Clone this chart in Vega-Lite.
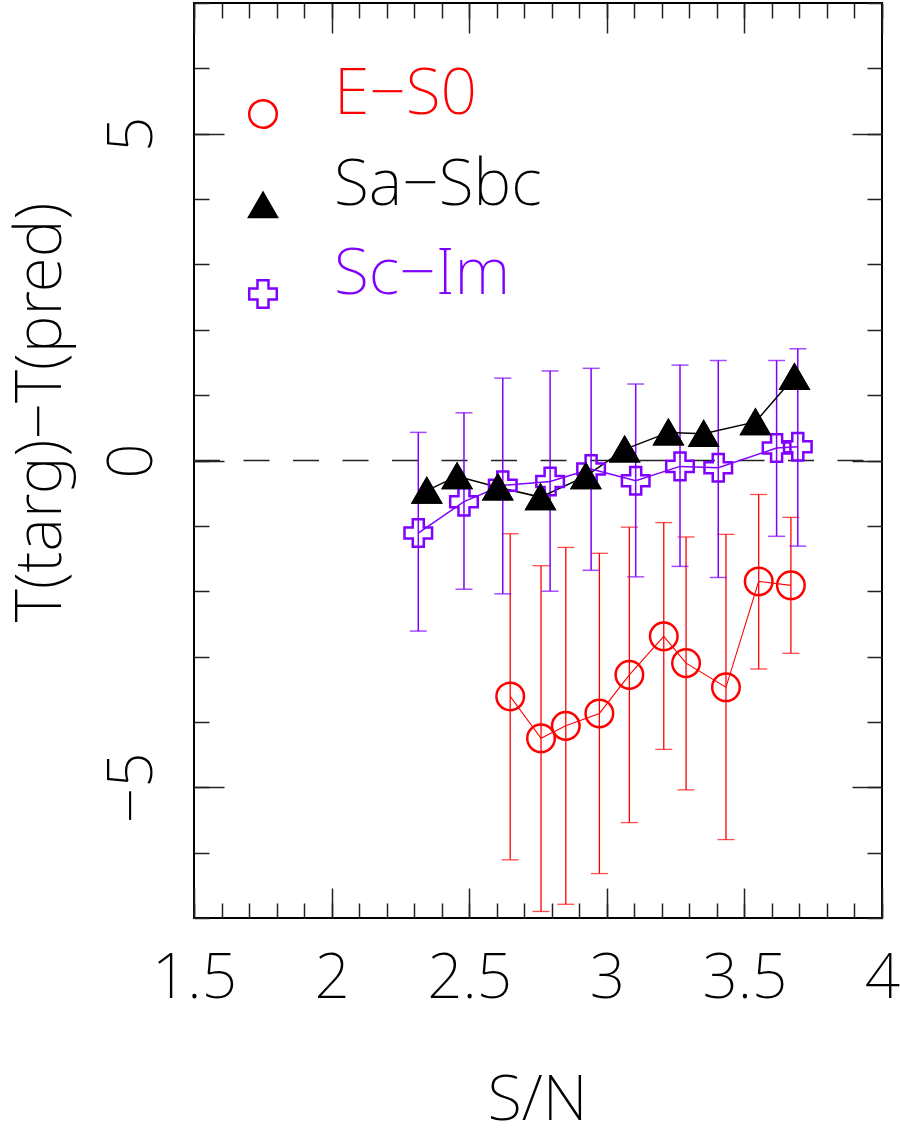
{
  "$schema": "https://vega.github.io/schema/vega-lite/v6.json",
  "autosize": {"type": "none"},
  "padding": {"left": 194, "top": 3, "right": 18, "bottom": 220},
  "width": 688,
  "height": 915,
  "background": "#ffffff",
  "datasets": {
    "pts": [
      {"g": "E−S0", "sn": 2.649, "t": -3.61, "lo": -6.11, "hi": -1.12},
      {"g": "E−S0", "sn": 2.761, "t": -4.25, "lo": -6.90, "hi": -1.61},
      {"g": "E−S0", "sn": 2.851, "t": -4.06, "lo": -6.79, "hi": -1.33},
      {"g": "E−S0", "sn": 2.973, "t": -3.87, "lo": -6.32, "hi": -1.42},
      {"g": "E−S0", "sn": 3.082, "t": -3.28, "lo": -5.54, "hi": -1.02},
      {"g": "E−S0", "sn": 3.207, "t": -2.69, "lo": -4.42, "hi": -0.95},
      {"g": "E−S0", "sn": 3.288, "t": -3.10, "lo": -5.04, "hi": -1.17},
      {"g": "E−S0", "sn": 3.433, "t": -3.47, "lo": -5.80, "hi": -1.13},
      {"g": "E−S0", "sn": 3.552, "t": -1.85, "lo": -3.19, "hi": -0.52},
      {"g": "E−S0", "sn": 3.669, "t": -1.91, "lo": -2.95, "hi": -0.87},
      {"g": "Sa−Sbc", "sn": 2.346, "t": -0.46, "lo": null, "hi": null},
      {"g": "Sa−Sbc", "sn": 2.456, "t": -0.24, "lo": null, "hi": null},
      {"g": "Sa−Sbc", "sn": 2.604, "t": -0.41, "lo": null, "hi": null},
      {"g": "Sa−Sbc", "sn": 2.759, "t": -0.56, "lo": null, "hi": null},
      {"g": "Sa−Sbc", "sn": 2.924, "t": -0.24, "lo": null, "hi": null},
      {"g": "Sa−Sbc", "sn": 3.065, "t": 0.17, "lo": null, "hi": null},
      {"g": "Sa−Sbc", "sn": 3.224, "t": 0.43, "lo": null, "hi": null},
      {"g": "Sa−Sbc", "sn": 3.352, "t": 0.41, "lo": null, "hi": null},
      {"g": "Sa−Sbc", "sn": 3.540, "t": 0.59, "lo": null, "hi": null},
      {"g": "Sa−Sbc", "sn": 3.682, "t": 1.28, "lo": null, "hi": null},
      {"g": "Sc−Im", "sn": 2.315, "t": -1.11, "lo": -2.61, "hi": 0.43},
      {"g": "Sc−Im", "sn": 2.481, "t": -0.63, "lo": -1.97, "hi": 0.73},
      {"g": "Sc−Im", "sn": 2.622, "t": -0.38, "lo": -2.04, "hi": 1.26},
      {"g": "Sc−Im", "sn": 2.794, "t": -0.32, "lo": -2.00, "hi": 1.37},
      {"g": "Sc−Im", "sn": 2.943, "t": -0.13, "lo": -1.68, "hi": 1.41},
      {"g": "Sc−Im", "sn": 3.105, "t": -0.31, "lo": -1.78, "hi": 1.17},
      {"g": "Sc−Im", "sn": 3.266, "t": -0.09, "lo": -1.62, "hi": 1.46},
      {"g": "Sc−Im", "sn": 3.405, "t": -0.11, "lo": -1.79, "hi": 1.53},
      {"g": "Sc−Im", "sn": 3.617, "t": 0.19, "lo": -1.16, "hi": 1.53},
      {"g": "Sc−Im", "sn": 3.694, "t": 0.21, "lo": -1.31, "hi": 1.71}
    ]
  },
  "data": {"name": "pts"},
  "resolve": {"axis": {"x": "independent", "y": "independent"}},
  "layer": [
    {
      "data": {"values": [{"ref": 0}]},
      "mark": {"type": "rule", "color": "#222222", "strokeWidth": 1.5, "strokeDash": [26, 23.5]},
      "encoding": {
        "x": {"datum": 1.5, "type": "quantitative", "scale": {"domain": [1.5, 4], "nice": false, "zero": false},
          "axis": {"orient": "bottom", "values": [1.5,1.6,1.7,1.8,1.9,2,2.1,2.2,2.3,2.4,2.5,2.6,2.7,2.8,2.9,3,3.1,3.2,3.3,3.4,3.5,3.6,3.7,3.8,3.9,4], "tickSize": -15, "ticks": true, "labels": false, "domain": false, "grid": false, "title": null, "tickColor": "#222222", "tickWidth": 1.5}},
        "x2": {"datum": 4},
        "y": {"field": "ref", "type": "quantitative", "scale": {"domain": [-7, 7], "nice": false, "zero": false},
          "axis": {"orient": "left", "values": [-7,-6,-5,-4,-3,-2,-1,0,1,2,3,4,5,6,7], "tickSize": -15, "ticks": true, "labels": false, "domain": false, "grid": false, "title": null, "tickColor": "#222222", "tickWidth": 1.5}}
      }
    },
    {
      "transform": [{"filter": {"field": "g", "equal": "E−S0"}}],
      "mark": {"type": "errorbar", "ticks": true, "size": 17, "thickness": 1.3, "color": "#ff0000"},
      "encoding": {
        "x": {"field": "sn", "type": "quantitative", "scale": {"domain": [1.5, 4], "nice": false, "zero": false}, "axis": null},
        "y": {"field": "lo", "type": "quantitative", "scale": {"domain": [-7, 7], "nice": false, "zero": false}, "axis": null},
        "y2": {"field": "hi"}
      }
    },
    {
      "transform": [{"filter": {"field": "g", "equal": "Sc−Im"}}],
      "mark": {"type": "errorbar", "ticks": true, "size": 17, "thickness": 1.5, "color": "#8000ff"},
      "encoding": {
        "x": {"field": "sn", "type": "quantitative", "scale": {"domain": [1.5, 4], "nice": false, "zero": false}, "axis": null},
        "y": {"field": "lo", "type": "quantitative", "scale": {"domain": [-7, 7], "nice": false, "zero": false}, "axis": null},
        "y2": {"field": "hi"}
      }
    },
    {
      "mark": {"type": "line"},
      "encoding": {
        "x": {"field": "sn", "type": "quantitative", "scale": {"domain": [1.5, 4], "nice": false, "zero": false},
          "axis": {"orient": "top", "values": [1.5,1.6,1.7,1.8,1.9,2,2.1,2.2,2.3,2.4,2.5,2.6,2.7,2.8,2.9,3,3.1,3.2,3.3,3.4,3.5,3.6,3.7,3.8,3.9,4], "tickSize": -15, "ticks": true, "labels": false, "domain": false, "grid": false, "title": null, "tickColor": "#222222", "tickWidth": 1.5}},
        "y": {"field": "t", "type": "quantitative", "scale": {"domain": [-7, 7], "nice": false, "zero": false},
          "axis": {"orient": "right", "values": [-7,-6,-5,-4,-3,-2,-1,0,1,2,3,4,5,6,7], "tickSize": -15, "ticks": true, "labels": false, "domain": false, "grid": false, "title": null, "tickColor": "#222222", "tickWidth": 1.5}},
        "detail": {"field": "g", "type": "nominal"},
        "color": {"condition": [{"test": "datum.g == 'E−S0'", "value": "#ff0000"}, {"test": "datum.g == 'Sc−Im'", "value": "#8000ff"}], "value": "#000000"},
        "strokeWidth": {"condition": {"test": "datum.g == 'E−S0'", "value": 1.1}, "value": 1.5}
      }
    },
    {
      "mark": {"type": "point", "filled": false, "size": 760, "strokeWidth": 2.5, "opacity": 1},
      "encoding": {
        "x": {"field": "sn", "type": "quantitative", "scale": {"domain": [1.5, 4], "nice": false, "zero": false},
          "axis": {"orient": "bottom", "values": [1.5, 2, 2.5, 3, 3.5, 4], "format": "~g", "tickSize": -30, "ticks": true, "labels": true, "domain": false, "grid": false, "tickColor": "#222222", "tickWidth": 1.5,
            "labelFont": "Noto Sans", "labelFontSize": 62, "labelFontWeight": 200, "labelColor": "#000000", "labelPadding": 60, "labelFlush": false, "labelOverlap": false, "labelAlign": "center", "labelBaseline": "top",
            "title": "S/N", "titleFont": "Noto Sans", "titleFontSize": 63, "titleFontWeight": 200, "titleColor": "#000000", "titleBaseline": "alphabetic", "titleAlign": "center", "titleX": 343, "titleY": 201}},
        "y": {"field": "t", "type": "quantitative", "scale": {"domain": [-7, 7], "nice": false, "zero": false},
          "axis": {"orient": "left", "values": [-5, 0, 5], "format": "~g", "tickSize": -30, "ticks": true, "labels": true, "domain": false, "grid": false, "tickColor": "#222222", "tickWidth": 1.5,
            "labelFont": "Noto Sans", "labelFontSize": 62, "labelFontWeight": 200, "labelColor": "#000000", "labelPadding": 60, "labelFlush": false, "labelOverlap": false, "labelAngle": -90, "labelAlign": "center", "labelBaseline": "bottom",
            "title": "T(targ)−T(pred)", "titleFont": "Noto Sans", "titleFontSize": 64, "titleFontWeight": 200, "titleColor": "#000000", "titleAngle": -90, "titleBaseline": "alphabetic", "titleAlign": "center", "titleX": -134, "titleY": 409}},
        "color": {"field": "g", "type": "nominal", "scale": {"domain": ["E−S0", "Sa−Sbc", "Sc−Im"], "range": ["#ff0000", "#000000", "#8000ff"]},
          "legend": {"orient": "none", "legendX": 37, "legendY": 79, "title": null, "padding": 0, "labelFont": "Noto Sans", "labelFontSize": 64, "labelFontWeight": 200, "labelBaseline": "alphabetic", "labelOffset": 39, "rowPadding": 21, "symbolSize": 760, "symbolStrokeWidth": 2.5, "labelLimit": 600,
            "encoding": {"labels": {"fill": {"condition": [{"test": "datum.value == 'E−S0'", "value": "#ff0000"}, {"test": "datum.value == 'Sc−Im'", "value": "#8000ff"}], "value": "#000000"}},
                         "symbols": {"fill": {"condition": {"test": "datum.value == 'Sa−Sbc'", "value": "#000000"}, "value": "transparent"}, "strokeWidth": {"value": 2.5}, "opacity": {"value": 1}}}}},
        "shape": {"field": "g", "type": "nominal", "scale": {"domain": ["E−S0", "Sa−Sbc", "Sc−Im"], "range": ["circle", "triangle-up", "cross"]},
          "legend": {"orient": "none", "legendX": 37, "legendY": 79, "title": null, "padding": 0, "labelFont": "Noto Sans", "labelFontSize": 64, "labelFontWeight": 200, "labelBaseline": "alphabetic", "labelOffset": 39, "rowPadding": 21, "symbolSize": 760, "symbolStrokeWidth": 2.5, "labelLimit": 600,
            "encoding": {"labels": {"fill": {"condition": [{"test": "datum.value == 'E−S0'", "value": "#ff0000"}, {"test": "datum.value == 'Sc−Im'", "value": "#8000ff"}], "value": "#000000"}},
                         "symbols": {"fill": {"condition": {"test": "datum.value == 'Sa−Sbc'", "value": "#000000"}, "value": "transparent"}, "strokeWidth": {"value": 2.5}, "opacity": {"value": 1}}}}}
      }
    },
    {
      "transform": [{"filter": {"field": "g", "equal": "Sa−Sbc"}}],
      "mark": {"type": "point", "filled": true, "shape": "triangle-up", "size": 760, "color": "#000000", "stroke": "#000000", "strokeWidth": 2.5, "opacity": 1},
      "encoding": {
        "x": {"field": "sn", "type": "quantitative", "scale": {"domain": [1.5, 4], "nice": false, "zero": false},
          "axis": {"orient": "top", "values": [1.5, 2, 2.5, 3, 3.5, 4], "tickSize": -30, "ticks": true, "labels": false, "domain": false, "grid": false, "title": null, "tickColor": "#222222", "tickWidth": 1.5}},
        "y": {"field": "t", "type": "quantitative", "scale": {"domain": [-7, 7], "nice": false, "zero": false},
          "axis": {"orient": "right", "values": [-5, 0, 5], "tickSize": -30, "ticks": true, "labels": false, "domain": false, "grid": false, "title": null, "tickColor": "#222222", "tickWidth": 1.5}}
      }
    }
  ],
  "config": {
    "view": {"stroke": "#000000", "strokeWidth": 2},
    "font": "Noto Sans"
  }
}
